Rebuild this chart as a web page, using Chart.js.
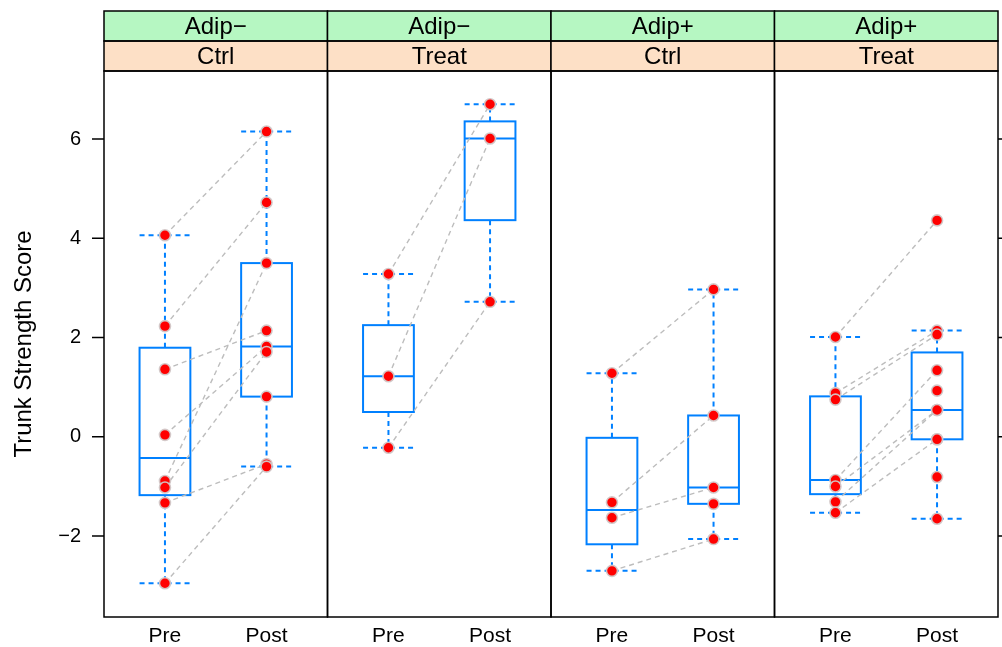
<!DOCTYPE html>
<html>
<head>
<meta charset="utf-8">
<script src="https://cdn.jsdelivr.net/npm/chart.js@4/dist/chart.umd.min.js"></script>
<style>
    body { margin: 0; background: #ffffff; overflow: hidden; }
    #wrap { width: 1002px; height: 647px; position: relative; }
</style>
</head>
<body>
<div id="wrap"><canvas id="trunkChart"></canvas></div>
<script>
// Trunk strength, pre vs post, split by adiposity and treatment group

const stripTop = ['Adip\u2212', 'Adip\u2212', 'Adip+', 'Adip+'];
const stripBottom = ['Ctrl', 'Treat', 'Ctrl', 'Treat'];
const timeLabels = ['Pre', 'Post'];
const yTicks = [-2, 0, 2, 4, 6];
const yTitle = 'Trunk Strength Score';

// one entry per subject, pre and post in the same order (null = missing)
const adipNegCtrlPre   = [4.06, 2.23, 1.36, 0.04, -0.89, -1.02, -1.33, -2.95, null];
const adipNegCtrlPost  = [6.15, 4.72, 2.14, 1.82, 3.50, 1.71, -0.55, -0.60, 0.81];
const adipNegTreatPre  = [3.28, 1.22, -0.22];
const adipNegTreatPost = [6.70, 6.01, 2.72];
const adipPosCtrlPre   = [1.28, -1.32, -1.63, -2.70, null];
const adipPosCtrlPost  = [2.97, 0.43, -1.02, -2.06, -1.35];
const adipPosTreatPre  = [2.01, 0.88, 0.75, -0.87, -1.00, -1.31, -1.53, null, null, null, null];
const adipPosTreatPost = [4.36, 2.14, 2.06, 1.34, 0.54, 0.54, -0.05, 0.93, -0.05, -0.81, -1.65];

const panels = [
    [adipNegCtrlPre, adipNegCtrlPost],
    [adipNegTreatPre, adipNegTreatPost],
    [adipPosCtrlPre, adipPosCtrlPost],
    [adipPosTreatPre, adipPosTreatPost]
];

const PANEL_SPAN = 2.2;   // x units per panel (lattice limits 0.4 .. 2.6)
const Y_MIN = -3.63;
const Y_MAX = 7.37;
const BOX_HALF = 0.25;
const BOX_COLOR = '#0080ff';
const FONT = '"Liberation Sans", Arial, sans-serif';

function xPos(panel, time) {
    return panel * PANEL_SPAN + (time + 1 - 0.4);
}

// Tukey five number summary, same as R's fivenum
function fivenum(values) {
    const x = values.filter(v => v !== null).sort((a, b) => a - b);
    const n = x.length;
    const n4 = Math.floor((n + 3) / 2) / 2;
    const d = [1, n4, (n + 1) / 2, n + 1 - n4, n];
    return d.map(v => 0.5 * (x[Math.floor(v) - 1] + x[Math.ceil(v) - 1]));
}

function boxStats(values) {
    const x = values.filter(v => v !== null).sort((a, b) => a - b);
    const f = fivenum(values);
    const reach = 1.5 * (f[3] - f[1]);
    const lo = x.find(v => v >= f[1] - reach);
    const hi = [...x].reverse().find(v => v <= f[3] + reach);
    return { lo: lo, q1: f[1], med: f[2], q3: f[3], hi: hi };
}

// datasets: points on top, paired dashed lines underneath
const pointData = [];
const pairSets = [];
panels.forEach((pair, p) => {
    pair.forEach((values, t) => {
        values.forEach(v => {
            if (v !== null) pointData.push({ x: xPos(p, t), y: v });
        });
    });
    pair[0].forEach((pre, i) => {
        const post = pair[1][i];
        if (pre === null || post === null) return;
        pairSets.push({
            type: 'line',
            data: [{ x: xPos(p, 0), y: pre }, { x: xPos(p, 1), y: post }],
            borderColor: '#bdbdbd',
            borderWidth: 1.4,
            borderDash: [5, 4],
            pointRadius: 0,
            fill: false,
            order: 2
        });
    });
});

const latticePlugin = {
    id: 'lattice',
    beforeDatasetsDraw(chart) {
        const { ctx, scales: { x, y } } = chart;
        ctx.save();
        panels.forEach((pair, p) => {
            pair.forEach((values, t) => {
                const s = boxStats(values);
                const cx = x.getPixelForValue(xPos(p, t));
                const hw = x.getPixelForValue(xPos(p, t) + BOX_HALF) - cx;
                ctx.strokeStyle = BOX_COLOR;
                ctx.lineWidth = 2;
                ctx.setLineDash([]);
                ctx.strokeRect(cx - hw, y.getPixelForValue(s.q3), 2 * hw,
                    y.getPixelForValue(s.q1) - y.getPixelForValue(s.q3));
                ctx.beginPath();
                ctx.moveTo(cx - hw, y.getPixelForValue(s.med));
                ctx.lineTo(cx + hw, y.getPixelForValue(s.med));
                ctx.stroke();
                ctx.setLineDash([5, 4]);
                ctx.beginPath();
                ctx.moveTo(cx, y.getPixelForValue(s.q3));
                ctx.lineTo(cx, y.getPixelForValue(s.hi));
                ctx.moveTo(cx, y.getPixelForValue(s.q1));
                ctx.lineTo(cx, y.getPixelForValue(s.lo));
                ctx.moveTo(cx - hw, y.getPixelForValue(s.hi));
                ctx.lineTo(cx + hw, y.getPixelForValue(s.hi));
                ctx.moveTo(cx - hw, y.getPixelForValue(s.lo));
                ctx.lineTo(cx + hw, y.getPixelForValue(s.lo));
                ctx.stroke();
            });
        });
        ctx.restore();
    },
    afterDatasetsDraw(chart) {
        const { ctx, chartArea: a, scales: { x, y } } = chart;
        ctx.save();
        ctx.setLineDash([]);
        ctx.strokeStyle = '#000000';
        ctx.fillStyle = '#000000';
        ctx.lineWidth = 1.5;

        // strips
        const stripH = 30;
        panels.forEach((pair, p) => {
            const left = x.getPixelForValue(p * PANEL_SPAN);
            const right = x.getPixelForValue((p + 1) * PANEL_SPAN);
            ctx.fillStyle = '#b6f7c2';
            ctx.fillRect(left, a.top - 2 * stripH, right - left, stripH);
            ctx.fillStyle = '#fde0c6';
            ctx.fillRect(left, a.top - stripH, right - left, stripH);
            ctx.fillStyle = '#000000';
            ctx.font = '24px ' + FONT;
            ctx.textAlign = 'center';
            ctx.textBaseline = 'middle';
            ctx.fillText(stripTop[p], (left + right) / 2, a.top - 1.5 * stripH + 1);
            ctx.fillText(stripBottom[p], (left + right) / 2, a.top - 0.5 * stripH + 1);
            ctx.strokeRect(left, a.top - 2 * stripH, right - left, stripH);
            ctx.strokeRect(left, a.top - stripH, right - left, stripH);
            ctx.strokeRect(left, a.top, right - left, a.bottom - a.top);

            // Pre / Post labels
            ctx.font = '21px ' + FONT;
            timeLabels.forEach((lab, t) => {
                ctx.fillText(lab, x.getPixelForValue(xPos(p, t)), a.bottom + 19);
            });
        });

        // y ticks left and right
        ctx.font = '20px ' + FONT;
        ctx.textAlign = 'right';
        ctx.textBaseline = 'middle';
        yTicks.forEach(v => {
            const py = y.getPixelForValue(v);
            ctx.beginPath();
            ctx.moveTo(a.left, py);
            ctx.lineTo(a.left - 12, py);
            ctx.moveTo(a.right, py);
            ctx.lineTo(a.right + 12, py);
            ctx.stroke();
            ctx.fillText(v < 0 ? '\u2212' + Math.abs(v) : String(v), a.left - 23, py);
        });

        // y title
        ctx.translate(24, (a.top + a.bottom) / 2);
        ctx.rotate(-Math.PI / 2);
        ctx.textAlign = 'center';
        ctx.font = '24px ' + FONT;
        ctx.fillText(yTitle, 0, 0);
        ctx.restore();
    }
};

const ctx = document.getElementById('trunkChart').getContext('2d');
new Chart(ctx, {
    type: 'scatter',
    data: {
        datasets: [{
            label: 'Scores',
            data: pointData,
            backgroundColor: '#ff0000',
            borderColor: 'rgba(210, 200, 200, 0.95)',
            borderWidth: 1.6,
            pointRadius: 5.5,
            order: 1
        }].concat(pairSets)
    },
    options: {
        responsive: true,
        maintainAspectRatio: false,
        animation: false,
        layout: {
            autoPadding: false,
            padding: { left: 104, top: 71, right: 4, bottom: 30 }
        },
        scales: {
            x: { type: 'linear', min: 0, max: 4 * PANEL_SPAN, display: false },
            y: { type: 'linear', min: Y_MIN, max: Y_MAX, display: false }
        },
        plugins: {
            legend: { display: false },
            tooltip: { enabled: false }
        }
    },
    plugins: [latticePlugin]
});
</script>
</body>
</html>
